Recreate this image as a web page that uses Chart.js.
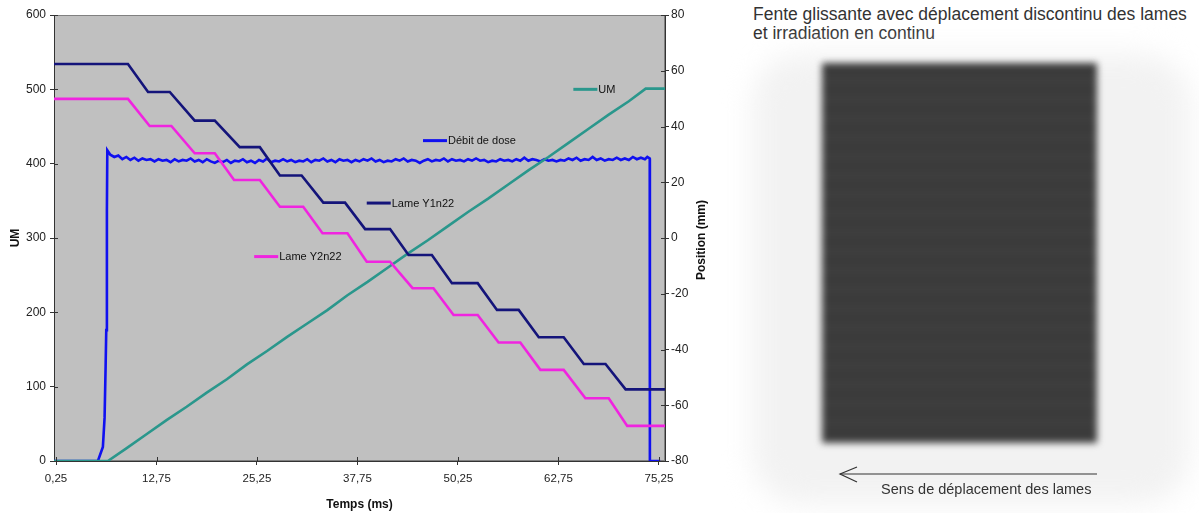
<!DOCTYPE html>
<html>
<head>
<meta charset="utf-8">
<script src="https://cdn.jsdelivr.net/npm/chart.js@4.4.0/dist/chart.umd.min.js"></script>
<style>
  body { margin: 0; background: #fff; width: 1199px; height: 513px; overflow: hidden; position: relative; font-family: "Liberation Sans", Arial, sans-serif; }
  #wrap { position: absolute; left: 0; top: 0; width: 720px; height: 513px; }
  #title { position: absolute; left: 753px; top: 5px; font-size: 17.5px; line-height: 19px; color: #333; }
  #glow { position: absolute; left: 752px; top: 54px; width: 438px; height: 450px; background: #f2f2f2; border-radius: 50px; filter: blur(14px); }
  #film { position: absolute; left: 822px; top: 63px; width: 275px; height: 380px; background-color: #393939;
    background-image: repeating-linear-gradient(0deg, rgba(255,255,255,0.045) 0 3px, transparent 3px 19px),
                      repeating-linear-gradient(90deg, rgba(255,255,255,0.04) 0 2px, transparent 2px 9px);
    filter: blur(3.5px); }
  #arrow { position: absolute; left: 830px; top: 460px; }
  #caption { position: absolute; left: 881px; top: 481px; font-size: 14.5px; line-height: 16px; color: #333; }
</style>
</head>
<body>
<div id="wrap"><canvas id="doseChart" width="720" height="513"></canvas></div>
<div id="title">Fente glissante avec déplacement discontinu des lames<br>et irradiation en continu</div>
<div id="glow"></div>
<div id="film"></div>
<svg id="arrow" width="280" height="30">
  <line x1="10" y1="14" x2="267" y2="14" stroke="#333" stroke-width="1.2"/>
  <polyline points="27,7 10,14 27,22" fill="none" stroke="#333" stroke-width="1.2"/>
</svg>
<div id="caption">Sens de déplacement des lames</div>
<script>
// time axis ticks (ms)
const timeTicks = [0.25, 12.75, 25.25, 37.75, 50.25, 62.75, 75.25];

// Débit de dose (left axis)
const doseTime = [0, 5.46, 6.08, 6.29, 6.42, 6.5, 6.58, 6.63,
  7, 7.5, 8, 8.5, 9, 9.5, 10, 10.5, 11, 11.5, 12, 12.5, 13, 13.5, 14, 14.5, 15, 15.5, 16, 16.5,
  17, 17.5, 18, 18.5, 19, 19.5, 20, 20.5, 21, 21.5, 22, 22.5, 23, 23.5, 24, 24.5, 25, 25.5, 26, 26.5,
  27, 27.5, 28, 28.5, 29, 29.5, 30, 30.5, 31, 31.5, 32, 32.5, 33, 33.5, 34, 34.5, 35, 35.5, 36, 36.5,
  37, 37.5, 38, 38.5, 39, 39.5, 40, 40.5, 41, 41.5, 42, 42.5, 43, 43.5, 44, 44.5, 45, 45.5, 46, 46.5,
  47, 47.5, 48, 48.5, 49, 49.5, 50, 50.5, 51, 51.5, 52, 52.5, 53, 53.5, 54, 54.5, 55, 55.5, 56, 56.5,
  57, 57.5, 58, 58.5, 59, 59.5, 60, 60.5, 61, 61.5, 62, 62.5, 63, 63.5, 64, 64.5, 65, 65.5, 66, 66.5,
  67, 67.5, 68, 68.5, 69, 69.5, 70, 70.5, 71, 71.5, 72, 72.5, 73, 73.5, 73.8, 74.1, 74.12, 75.4];
const doseValues = [0, 0, 19, 58, 127, 176, 337, 418,
  412, 409, 411, 406, 409, 405, 408, 404, 407, 405, 406, 403, 406, 404, 405, 402, 406, 403, 405, 404,
  407, 403, 405, 402, 406, 403, 401, 404, 402, 405, 401, 404, 403, 406, 402, 404, 401, 405, 403, 407,
  402, 404, 403, 406, 403, 405, 402, 404, 403, 406, 402, 405, 404, 407, 403, 405, 402, 406, 404, 405,
  402, 405, 403, 406, 404, 407, 403, 405, 402, 404, 403, 406, 404, 407, 403, 405, 404, 401, 404, 406,
  403, 405, 404, 407, 403, 406, 404, 405, 403, 406, 404, 407, 404, 405, 402, 404, 403, 406, 404, 405,
  403, 406, 404, 408, 404, 406, 405, 403, 406, 404, 405, 403, 405, 404, 407, 405, 408, 404, 406, 405,
  409, 405, 407, 404, 406, 405, 408, 405, 407, 405, 409, 406, 408, 406, 409, 407, 0, 0];

// UM (left axis)
const umTime = [0, 6.7, 9, 11.5, 14, 16.5, 19, 21.5, 24, 26.5, 29, 31.5, 34, 36.5, 39, 41.5, 44, 46.5,
  49, 51.5, 54, 56.5, 59, 61.5, 64, 66.5, 69, 71.5, 73.6, 76];
const umValues = [0, 0, 17, 36, 55, 73, 92, 110, 130, 148, 167, 185, 203, 223, 241, 260, 279, 297,
  316, 335, 353, 372, 391, 409, 428, 447, 466, 484, 501, 501];

// Lame Y1n22 (right axis, mm)
const y1Time = [0, 9.2, 11.7, 14.4, 17.5, 20.0, 23.1, 25.6, 28.1, 30.8, 33.5, 36.2, 38.7, 41.8, 44.1,
  47.0, 49.5, 52.7, 55.1, 57.8, 60.3, 63.4, 65.9, 68.6, 71.1, 76];
const y1Values = [62.4, 62.4, 52.4, 52.4, 42.1, 42.1, 32.6, 32.6, 22.4, 22.4, 12.7, 12.7, 3.2, 3.2, -6.1,
  -6.1, -16.2, -16.2, -25.8, -25.8, -35.6, -35.6, -45.2, -45.2, -54.3, -54.3];

// Lame Y2n22 (right axis, mm)
const y2Time = [0, 9.2, 11.9, 14.6, 17.5, 20.0, 22.4, 25.6, 28.1, 31.0, 33.4, 36.5, 38.9, 41.8, 44.6,
  47.2, 49.7, 52.7, 55.3, 58.0, 60.5, 63.4, 66.1, 69.0, 71.3, 76];
const y2Values = [49.9, 49.9, 40.2, 40.2, 30.4, 30.4, 20.8, 20.8, 11.2, 11.2, 1.7, 1.7, -8.5, -8.5, -18,
  -18, -27.6, -27.6, -37.5, -37.5, -47.3, -47.3, -57.5, -57.5, -67.4, -67.4];

// inline series labels: text, anchor time, anchor value, axis
const seriesNames = ['UM', 'Débit de dose', 'Lame Y1n22', 'Lame Y2n22'];
const seriesColors = ['#2a978c', '#1010f0', '#14147a', '#f024e0'];
const labelTime = [64.6, 45.9, 38.9, 24.9];
const labelValue = [500, 431, 347, 275];
const labelAxis = ['y', 'y', 'y', 'y'];

const pairs = (t, v) => t.map((x, i) => ({ x: x, y: v[i] }));

const plotBackground = {
  id: 'plotBackground',
  beforeDraw(chart) {
    const { ctx, chartArea: a } = chart;
    ctx.save();
    ctx.fillStyle = '#c0c0c0';
    ctx.fillRect(a.left, a.top, a.right - a.left, a.bottom - a.top);
    ctx.strokeStyle = '#808080';
    ctx.lineWidth = 1;
    ctx.strokeRect(a.left + 0.5, a.top + 0.5, a.right - a.left - 1, a.bottom - a.top - 1);
    ctx.restore();
  },
  afterDraw(chart) {
    const { ctx, chartArea: a, scales } = chart;
    ctx.save();
    ctx.strokeStyle = '#333';
    ctx.lineWidth = 1;
    ctx.beginPath();
    scales.x.ticks.forEach(t => {
      const px = Math.round(scales.x.getPixelForValue(t.value)) + 0.5;
      ctx.moveTo(px, a.bottom); ctx.lineTo(px, a.bottom - 4);
    });
    scales.y.ticks.forEach(t => {
      const py = Math.round(scales.y.getPixelForValue(t.value)) + 0.5;
      ctx.moveTo(a.left, py); ctx.lineTo(a.left + 4, py);
    });
    scales.y2.ticks.forEach(t => {
      const py = Math.round(scales.y2.getPixelForValue(t.value)) + 0.5;
      ctx.moveTo(a.right, py); ctx.lineTo(a.right - 4, py);
    });
    ctx.stroke();
    // right axis title, reading upwards
    ctx.translate(702, 240);
    ctx.rotate(-Math.PI / 2);
    ctx.fillStyle = '#111';
    ctx.font = 'bold 12px "Liberation Sans", Arial, sans-serif';
    ctx.textAlign = 'center';
    ctx.textBaseline = 'middle';
    ctx.fillText('Position (mm)', 0, 0);
    ctx.restore();
  }
};

const seriesLabels = {
  id: 'seriesLabels',
  afterDatasetsDraw(chart) {
    const { ctx, scales } = chart;
    ctx.save();
    ctx.font = '11px "Liberation Sans", Arial, sans-serif';
    ctx.textBaseline = 'middle';
    seriesNames.forEach((name, i) => {
      const px = scales.x.getPixelForValue(labelTime[i]);
      const py = scales[labelAxis[i]].getPixelForValue(labelValue[i]);
      ctx.strokeStyle = seriesColors[i];
      ctx.lineWidth = 3;
      ctx.beginPath();
      ctx.moveTo(px, py); ctx.lineTo(px + 24, py);
      ctx.stroke();
      ctx.fillStyle = '#111';
      ctx.fillText(name, px + 25, py + 0.5);
    });
    ctx.restore();
  }
};

const fmt = v => v.toFixed(2).replace('.', ',');

new Chart(document.getElementById('doseChart'), {
  type: 'line',
  data: {
    datasets: [
      { label: seriesNames[1], data: pairs(doseTime, doseValues), yAxisID: 'y', borderColor: seriesColors[1], order: 4 },
      { label: seriesNames[0], data: pairs(umTime, umValues), yAxisID: 'y', borderColor: seriesColors[0], order: 3 },
      { label: seriesNames[3], data: pairs(y2Time, y2Values), yAxisID: 'y2', borderColor: seriesColors[3], order: 2 },
      { label: seriesNames[2], data: pairs(y1Time, y1Values), yAxisID: 'y2', borderColor: seriesColors[2], order: 1 }
    ]
  },
  options: {
    responsive: false,
    animation: false,
    events: [],
    datasets: { line: { pointRadius: 0, borderWidth: 2.6, tension: 0, fill: false } },
    layout: { padding: { top: 15, left: 0, right: 0, bottom: 0 } },
    plugins: { legend: { display: false }, tooltip: { enabled: false } },
    scales: {
      x: {
        type: 'linear', min: 0, max: 76,
        afterBuildTicks: s => { s.ticks = timeTicks.map(v => ({ value: v })); },
        afterFit: s => { s.height = 52; },
        ticks: { callback: v => fmt(v), color: '#222', padding: 7, maxRotation: 0, autoSkip: false,
                 font: { family: '"Liberation Sans", Arial, sans-serif', size: 11.5 } },
        grid: { drawOnChartArea: false, tickLength: 4, color: '#333' },
        border: { color: '#333', width: 1 },
        title: { display: true, text: 'Temps (ms)', color: '#111', padding: { top: 0, bottom: 1 },
                 font: { family: '"Liberation Sans", Arial, sans-serif', size: 12, weight: 'bold' } }
      },
      y: {
        position: 'left', min: 0, max: 600,
        afterFit: s => { s.width = 54; },
        ticks: { stepSize: 100, color: '#222', padding: 4,
                 font: { family: '"Liberation Sans", Arial, sans-serif', size: 12 } },
        grid: { drawOnChartArea: false, tickLength: 4, color: '#333' },
        border: { color: '#333', width: 1 },
        title: { display: true, text: 'UM', color: '#111', padding: { top: 8, bottom: 0 },
                 font: { family: '"Liberation Sans", Arial, sans-serif', size: 12, weight: 'bold' } }
      },
      y2: {
        position: 'right', min: -80, max: 80,
        afterFit: s => { s.width = 55; },
        ticks: { stepSize: 20, color: '#222', padding: 2,
                 font: { family: '"Liberation Sans", Arial, sans-serif', size: 12 } },
        grid: { drawOnChartArea: false, tickLength: 4, color: '#333' },
        border: { color: '#333', width: 1 }
      }
    }
  },
  plugins: [plotBackground, seriesLabels]
});
</script>
</body>
</html>
